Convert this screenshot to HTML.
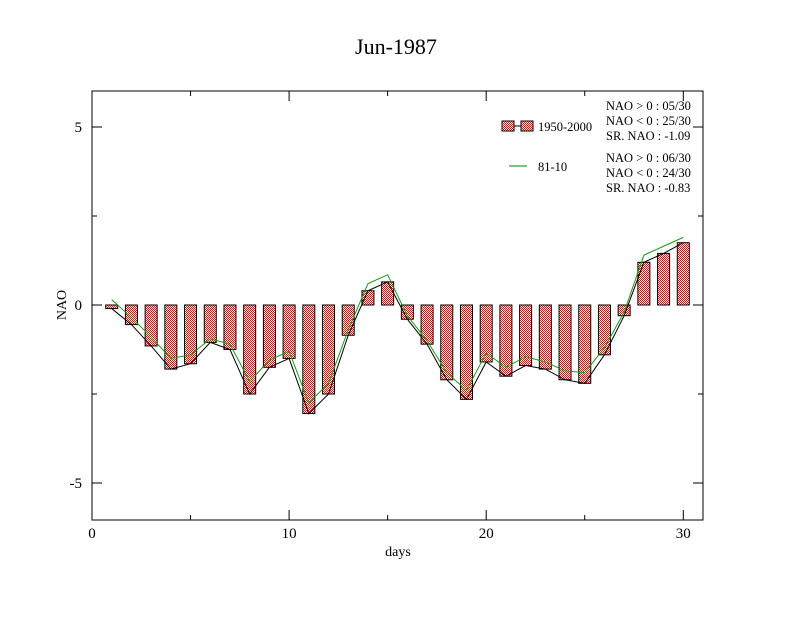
<!DOCTYPE html>
<html><head><meta charset="utf-8"><style>
body{margin:0;background:#fff}
svg text{font-family:"Liberation Serif",serif}
</style></head><body>
<svg id="c" width="792" height="612" viewBox="0 0 792 612">
<defs>
<pattern id="chk" width="2" height="2" patternUnits="userSpaceOnUse">
<rect width="2" height="2" fill="#fff"/><rect width="1" height="1" fill="#f00"/><rect x="1" y="1" width="1" height="1" fill="#f00"/>
</pattern>
</defs>
<text x="396" y="54" font-size="22" text-anchor="middle">Jun-1987</text>
<g id="plot"></g>
<rect x="92" y="91" width="611" height="429" fill="none" stroke="#000" stroke-width="1"/>
<g id="axes"></g>
<text x="398" y="556" font-size="14" text-anchor="middle">days</text>
<text x="66" y="305" font-size="14" text-anchor="middle" transform="rotate(-90 66 305)">NAO</text>
<g>
<rect x="502" y="121" width="12" height="10" fill="url(#chk)" stroke="#000"/>
<line x1="514" y1="126" x2="521" y2="126" stroke="#000"/>
<rect x="521" y="121" width="12" height="10" fill="url(#chk)" stroke="#000"/>
<text x="538" y="131" font-size="12.5">1950-2000</text>
<line x1="509" y1="166" x2="527" y2="166" stroke="#008000"/>
<text x="538" y="171" font-size="12.5">81-10</text>
<g font-size="12.5">
<text x="606" y="110">NAO &gt; 0 : 05/30</text>
<text x="606" y="125">NAO &lt; 0 : 25/30</text>
<text x="606" y="140">SR. NAO : -1.09</text>
</g>
<g font-size="12.5">
<text x="606" y="162">NAO &gt; 0 : 06/30</text>
<text x="606" y="177">NAO &lt; 0 : 24/30</text>
<text x="606" y="192">SR. NAO : -0.83</text>
</g>
</g>
</svg>
<script>
const days=[1,2,3,4,5,6,7,8,9,10,11,12,13,14,15,16,17,18,19,20,21,22,23,24,25,26,27,28,29,30];
const refValues=[-0.1,-0.55,-1.15,-1.8,-1.65,-1.05,-1.25,-2.5,-1.75,-1.5,-3.05,-2.5,-0.85,0.4,0.65,-0.4,-1.1,-2.1,-2.65,-1.6,-2.0,-1.7,-1.8,-2.1,-2.2,-1.4,-0.3,1.2,1.45,1.75];
const newValues=[0.15,-0.35,-0.9,-1.5,-1.4,-0.95,-1.1,-2.15,-1.55,-1.3,-2.75,-2.2,-0.7,0.6,0.85,-0.3,-1.0,-1.9,-2.4,-1.35,-1.75,-1.45,-1.6,-1.85,-1.9,-1.2,-0.2,1.4,1.65,1.9];
const xTicks=[0,10,20,30];
const yTicks=[-5,0,5];
const NS='http://www.w3.org/2000/svg';
const x=v=>92+v*(611/31);
const y=v=>305-v*35.6;
function mk(t,a){const e=document.createElementNS(NS,t);for(const k in a)e.setAttribute(k,a[k]);return e;}
const plot=document.getElementById('plot'),axes=document.getElementById('axes');
days.forEach((d,i)=>{
  const v=refValues[i],y0=y(0),y1=y(v);
  const r=mk('rect',{x:x(d)-6,y:Math.min(y0,y1),width:12,height:Math.max(1,Math.abs(y1-y0)),fill:'url(#chk)',stroke:'#000','stroke-width':1});
  
  
  plot.appendChild(r);
});
const l1=mk('polyline',{points:days.map((d,i)=>x(d)+','+y(refValues[i])).join(' '),fill:'none',stroke:'#000','stroke-width':1});


plot.appendChild(l1);
const l2=mk('polyline',{points:days.map((d,i)=>x(d)+','+y(newValues[i])).join(' '),fill:'none',stroke:'#1a9a1a','stroke-width':1});


plot.appendChild(l2);
for(let t=0;t<=31;t+=5){
  const big=t%10===0;
  axes.appendChild(mk('line',{x1:x(t),y1:520,x2:x(t),y2:520-(big?10:5),stroke:'#000'}));
  axes.appendChild(mk('line',{x1:x(t),y1:91,x2:x(t),y2:91+(big?10:5),stroke:'#000'}));
}
xTicks.forEach(t=>{
  const tx=mk('text',{x:x(t),y:538,'font-size':15,'text-anchor':'middle'});
  tx.textContent=t;
  
  
  axes.appendChild(tx);
});
for(let t=-5;t<=5;t+=2.5){
  const big=t%5===0;
  axes.appendChild(mk('line',{x1:92,y1:y(t),x2:92+(big?10:5),y2:y(t),stroke:'#000'}));
  axes.appendChild(mk('line',{x1:703,y1:y(t),x2:703-(big?10:5),y2:y(t),stroke:'#000'}));
}
yTicks.forEach(t=>{
  const tx=mk('text',{x:82,y:y(t)+5,'font-size':15,'text-anchor':'end'});
  tx.textContent=t;
  
  
  axes.appendChild(tx);
});
</script>
</body></html>
